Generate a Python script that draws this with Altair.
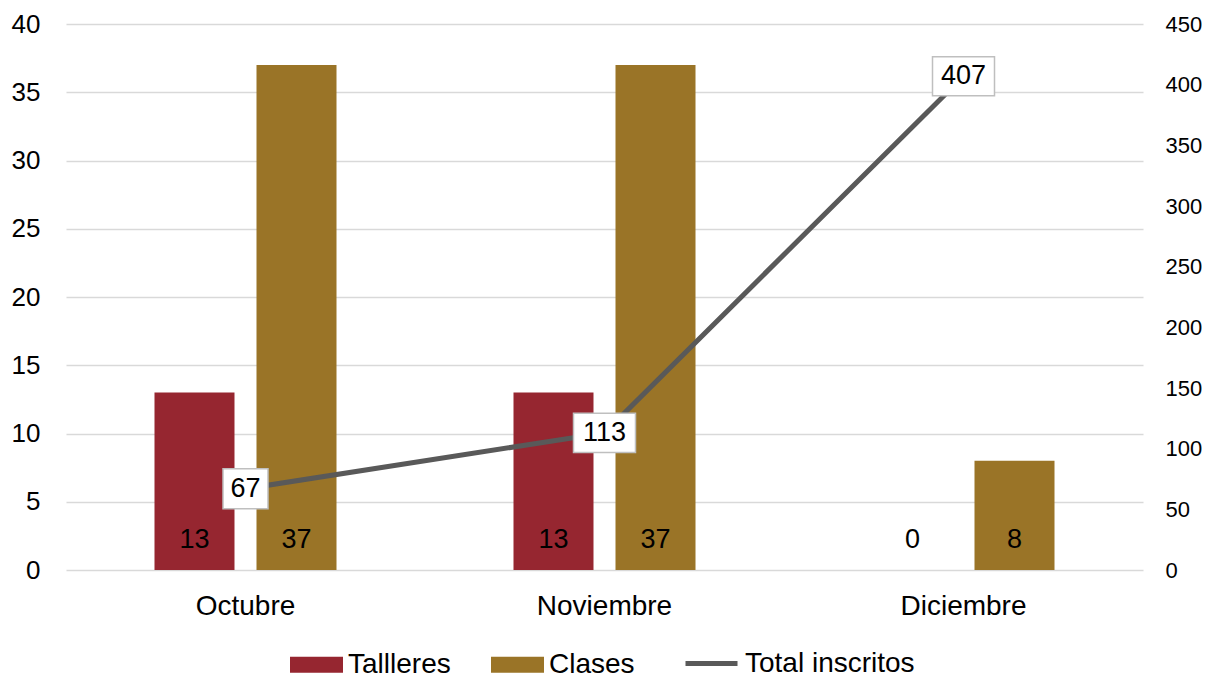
import altair as alt
import pandas as pd

meses = ["Octubre", "Noviembre", "Diciembre"]
series = ["Tallleres", "Clases"]
talleres = [13, 13, 0]
clases = [37, 37, 8]
total_inscritos = [67, 113, 407]
left_ticks = [0, 5, 10, 15, 20, 25, 30, 35, 40]
right_ticks = [0, 50, 100, 150, 200, 250, 300, 350, 400, 450]
line_name = "Total inscritos"

bars_df = pd.DataFrame({
    "Mes": meses * 2,
    "Serie": [series[0]] * len(meses) + [series[1]] * len(meses),
    "Valor": talleres + clases,
})
line_df = pd.DataFrame({
    "Mes": meses,
    "Total": total_inscritos,
    "Linea": [line_name] * len(meses),
})

FONT = "Liberation Sans"
RED = "#962630"
GOLD = "#9A7427"
LINE = "#595959"

x_enc = alt.X(
    "Mes:N", sort=meses,
    scale=alt.Scale(paddingInner=0.493, paddingOuter=0.2465),
    axis=alt.Axis(title=None, labelAngle=0, labelFontSize=28, labelFont=FONT,
                  labelColor="#000000", labelPadding=22, ticks=False, domain=False),
)
xoff = alt.XOffset("Serie:N", sort=series,
                   scale=alt.Scale(paddingInner=0.2157, paddingOuter=0))
y_left = alt.Y(
    "Valor:Q", scale=alt.Scale(domain=[0, 40], nice=False),
    axis=alt.Axis(values=left_ticks, title=None, labelFontSize=26, labelFont=FONT,
                  labelColor="#000000", labelPadding=26, ticks=False, domain=False,
                  gridColor="#D9D9D9", gridWidth=1.5),
)
y_right = alt.Y(
    "Total:Q", scale=alt.Scale(domain=[0, 450], nice=False),
    axis=alt.Axis(orient="right", values=right_ticks, title=None, labelFontSize=22,
                  labelFont=FONT, labelColor="#000000", labelPadding=22,
                  ticks=False, domain=False, grid=False),
)

bars = alt.Chart(bars_df).mark_bar().encode(
    x=x_enc, xOffset=xoff, y=y_left,
    color=alt.Color(
        "Serie:N", sort=series,
        scale=alt.Scale(domain=series, range=[RED, GOLD]),
        legend=alt.Legend(
            title=None, orient="none", legendX=224, legendY=614, direction="horizontal",
            symbolType="M-1,-0.3L1,-0.3L1,0.3L-1,0.3Z", symbolSize=2809,
            symbolStrokeWidth=0, labelFontSize=28, labelFont=FONT, labelColor="#000000",
            labelOffset=5, columnPadding=40, labelLimit=400,
        ),
    ),
)
bar_text = alt.Chart(bars_df).mark_text(fontSize=27, font=FONT, color="#000000", dy=-30).encode(
    x=x_enc, xOffset=xoff, y=alt.datum(0), text="Valor:Q",
)

line = alt.Chart(line_df).mark_line(strokeWidth=5, strokeCap="round").encode(
    x=x_enc, y=y_right,
    stroke=alt.Stroke(
        "Linea:N", scale=alt.Scale(domain=[line_name], range=[LINE]),
        legend=alt.Legend(
            title=None, orient="none", legendX=617, legendY=611, direction="horizontal",
            symbolType="stroke", symbolSize=2704, symbolStrokeWidth=5,
            labelFontSize=28, labelFont=FONT, labelColor="#000000", labelOffset=5,
            labelLimit=400,
        ),
    ),
)
box2 = alt.Chart(line_df).transform_filter("datum.Total < 100").mark_point(
    shape="M-1,-0.889L1,-0.889L1,0.889L-1,0.889Z", size=2025, filled=True,
    fill="white", stroke="#BFBFBF", strokeWidth=1.5, opacity=1,
).encode(x=x_enc, y=y_right)
box3 = alt.Chart(line_df).transform_filter("datum.Total >= 100").mark_point(
    shape="M-1,-0.63L1,-0.63L1,0.63L-1,0.63Z", size=3844, filled=True,
    fill="white", stroke="#BFBFBF", strokeWidth=1.5, opacity=1,
).encode(x=x_enc, y=y_right)
line_text = alt.Chart(line_df).mark_text(fontSize=27, font=FONT, color="#000000").encode(
    x=x_enc, y=y_right, text="Total:Q",
)

bar_layer = alt.layer(bars, bar_text)
line_layer = alt.layer(line, box2, box3, line_text)

chart = alt.layer(bar_layer, line_layer).resolve_scale(y="independent").properties(
    width=1077, height=546,
    background="white",
    autosize=alt.AutoSizeParams(type="none"),
    padding={"left": 58, "top": 16, "right": 67, "bottom": 108},
).configure_view(strokeWidth=0, stroke="transparent")

chart.save("out.html", embed_options={"renderer": "svg", "actions": False})
